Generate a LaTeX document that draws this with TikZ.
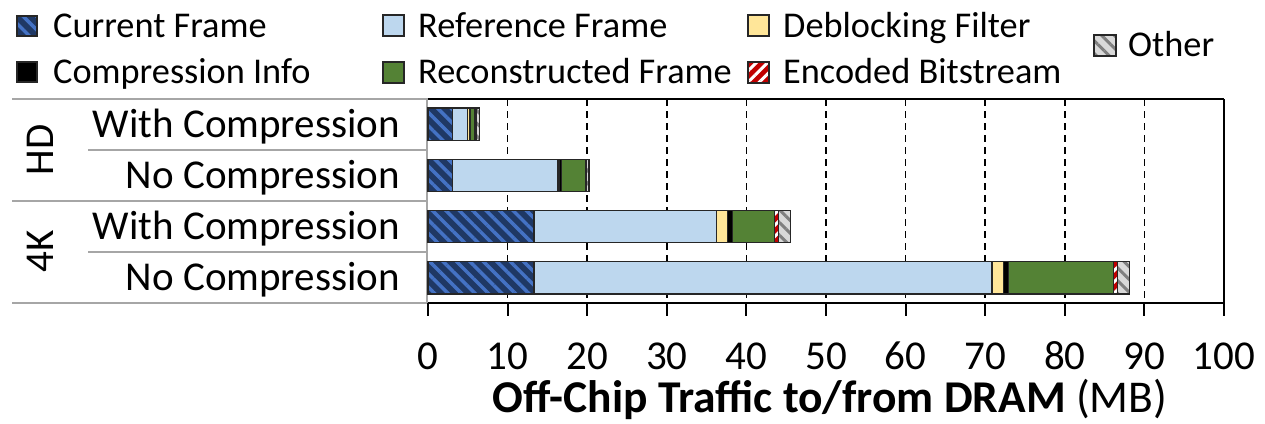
\documentclass[tikz,border=0pt]{standalone}
\usepackage{fontspec}
\setmainfont{Carlito}
\usetikzlibrary{patterns.meta}
\definecolor{cfdark}{HTML}{1F3864}
\definecolor{cfstripe}{HTML}{4472C4}
\definecolor{refc}{HTML}{BDD7EE}
\definecolor{dbc}{HTML}{FFE699}
\definecolor{recc}{HTML}{548235}
\definecolor{encc}{HTML}{C00000}
\definecolor{othc}{HTML}{D9D9D9}
\definecolor{othstripe}{HTML}{7F7F7F}
\definecolor{tablegray}{HTML}{A6A6A6}
\tikzset{
  segbox/.style={draw=black!85, line width=1.3pt},
  curf/.style={segbox, preaction={fill=cfdark}, pattern={Lines[angle=-45,distance=9.5pt,line width=3.5pt]}, pattern color=cfstripe},
  reff/.style={segbox, fill=refc},
  dbf/.style={segbox, fill=dbc},
  cif/.style={segbox, fill=black},
  recf/.style={segbox, fill=recc},
  encf/.style={segbox, preaction={fill=encc}, pattern={Lines[angle=45,distance=8pt,line width=3pt]}, pattern color=white},
  othf/.style={segbox, preaction={fill=othc}, pattern={Lines[angle=-45,distance=9pt,line width=3pt]}, pattern color=othstripe},
  gridl/.style={line width=1.6pt, dash pattern=on 7pt off 5pt},
  axisl/.style={line width=2pt, black},
  tabl/.style={line width=2pt, tablegray},
  catlab/.style={anchor=base east, inner sep=0pt, font=\fontsize{41}{45}\selectfont},
  grplab/.style={rotate=90, inner sep=0pt, font=\fontsize{41}{45}\selectfont},
  ticklab/.style={anchor=base, inner sep=0pt, font=\fontsize{41}{45}\selectfont},
  leglab/.style={anchor=base west, inner sep=0pt, font=\fontsize{36.3}{40}\selectfont},
}
\begin{document}
\begin{tikzpicture}[x=1pt,y=-1pt]
\useasboundingbox (0,0) rectangle (1265,423);
% gridlines
\foreach \i in {1,...,9} {
  \draw[gridl] ({428+79.6*\i},99) -- ({428+79.6*\i},303);
}
% left table
\draw[tabl] (12,99) -- (428,99);
\draw[tabl] (88,150) -- (428,150);
\draw[tabl] (12,201) -- (428,201);
\draw[tabl] (88,252) -- (428,252);
\draw[tabl] (12,303) -- (428,303);
\draw[tabl] (427,99) -- (427,303);
% axes
\draw[axisl] (428,99) -- (1224,99);
\draw[axisl] (1224,99) -- (1224,316);
\draw[axisl] (428,303) -- (1224,303);
\foreach \i in {0,...,10} {
  \pgfmathtruncatemacro\v{10*\i}
  \draw[axisl] ({428+79.6*\i},303) -- ({428+79.6*\i},316);
  \node[ticklab] (t\i) at ({428+79.6*\i},369) {\v};
}
% bars: HD with compression
\path[curf] (428,108) rectangle (452.7,140.5);
\path[reff] (452.7,108) rectangle (467.7,140.5);
\path[dbf] (467.7,108) rectangle (469.3,140.5);
\path[cif] (469.3,108) rectangle (470.8,140.5);
\path[recf] (470.8,108) rectangle (475,140.5);
\path[encf] (475,108) rectangle (476,140.5);
\path[othf] (476,108) rectangle (479.3,140.5);
% HD no compression
\path[curf] (428,159.2) rectangle (452.7,191.7);
\path[reff] (452.7,159.2) rectangle (557.3,191.7);
\path[dbf] (557.3,159.2) rectangle (559,191.7);
\path[cif] (559,159.2) rectangle (561.3,191.7);
\path[recf] (561.3,159.2) rectangle (586,191.7);
\path[othf] (586,159.2) rectangle (589,191.7);
% 4K with compression
\path[curf] (428,210.3) rectangle (534,242.8);
\path[reff] (534,210.3) rectangle (716.7,242.8);
\path[dbf] (716.7,210.3) rectangle (727.7,242.8);
\path[cif] (727.7,210.3) rectangle (732.7,242.8);
\path[recf] (732.7,210.3) rectangle (774.3,242.8);
\path[encf] (774.3,210.3) rectangle (778.3,242.8);
\path[othf] (778.3,210.3) rectangle (790.7,242.8);
% 4K no compression
\path[curf] (428,261.5) rectangle (534,294);
\path[reff] (534,261.5) rectangle (992,294);
\path[dbf] (992,261.5) rectangle (1003.3,294);
\path[cif] (1003.3,261.5) rectangle (1008.3,294);
\path[recf] (1008.3,261.5) rectangle (1113.3,294);
\path[encf] (1113.3,261.5) rectangle (1117.3,294);
\path[othf] (1117.3,261.5) rectangle (1129.3,294);
% category labels
\node[catlab] (hdw) at (400,137) {With Compression};
\node[catlab] (hdn) at (400,188) {No Compression};
\node[catlab] (kw) at (400,239) {With Compression};
\node[catlab] (kn) at (400,290) {No Compression};
\node[grplab] (hd) at (40,150) {HD};
\node[grplab] (fk) at (40,251) {4K};
% axis title
\node[anchor=base, inner sep=0pt, font=\fontsize{45.5}{48}\selectfont] (title) at (830,412) {\textbf{Off-Chip Traffic to/from DRAM} (MB)};
% legend
\path[curf] (17,16) rectangle (37,36);
\node[leglab] (l1) at (53,37) {Current Frame};
\path[reff] (383,15) rectangle (404,36);
\node[leglab] (l2) at (418,37) {Reference Frame};
\path[dbf] (748,15) rectangle (769,36);
\node[leglab] (l3) at (783,37) {Deblocking Filter};
\path[cif] (17,62) rectangle (37,82);
\node[leglab] (l4) at (53,83) {Compression Info};
\path[recf] (383,62) rectangle (404,83);
\node[leglab] (l5) at (418,83) {Reconstructed Frame};
\path[encf] (748,62) rectangle (769,83);
\node[leglab] (l6) at (783,83) {Encoded Bitstream};
\path[othf] (1094,35) rectangle (1116,56);
\node[leglab] (l7) at (1128,56) {Other};
\end{tikzpicture}
\end{document}
